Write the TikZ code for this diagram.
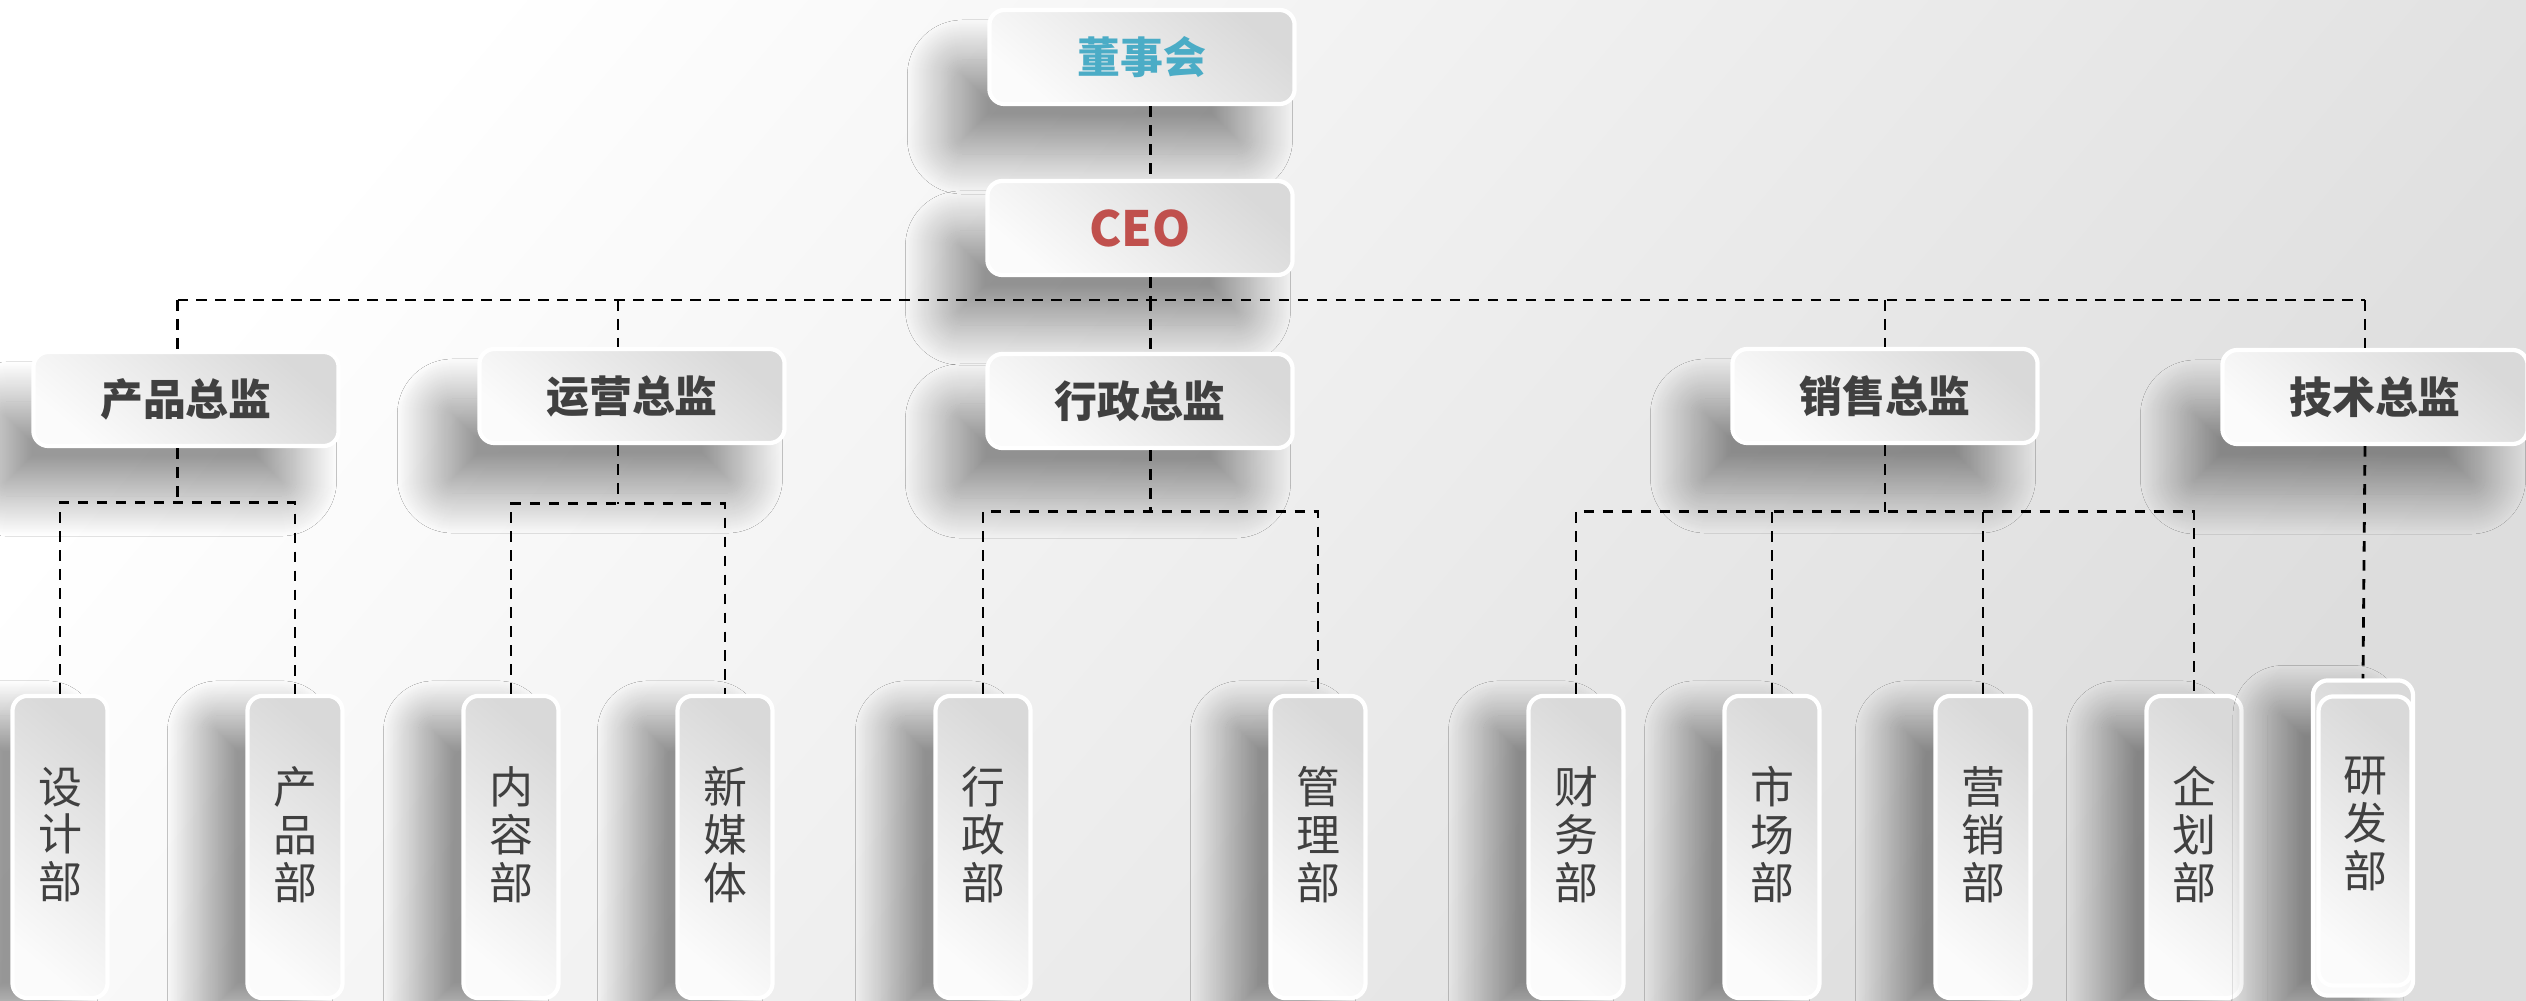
\documentclass[tikz,border=0pt]{standalone}
\usepackage{fontspec}
\newfontfamily\cjk{Noto Sans CJK SC}
\usetikzlibrary{shadows.blur, calc}

\definecolor{boardblue}{HTML}{4BACC6}
\definecolor{ceored}{HTML}{C0504D}
\definecolor{inkgray}{HTML}{404040}
\definecolor{cardtop}{HTML}{D9D9D9}
\definecolor{cardlow}{HTML}{FBFBFB}
\definecolor{bggray}{HTML}{DDDDDD}

\begin{document}
\begin{tikzpicture}[x=0.01cm, y=-0.01cm,
    card/.style={rectangle, rounded corners=0.15cm, draw=white, line width=1.2pt, top color=cardtop, bottom color=cardlow, shading angle=-40, text=inkgray, inner sep=0pt},
    drop/.style={blur shadow={shadow xshift=-0.42cm, shadow yshift=-0.5cm, shadow blur radius=0.4cm, shadow blur steps=40, shadow opacity=40}},
    sidedrop/.style={blur shadow={shadow xshift=-0.45cm, shadow yshift=-0.2cm, shadow blur radius=0.35cm, shadow blur steps=40, shadow opacity=40}},
    head/.style={card, drop, minimum width=3.05cm, minimum height=0.94cm, font=\cjk\bfseries\fontsize{12.2}{14}\selectfont},
    unit/.style={card, minimum width=0.95cm, minimum height=3.02cm, align=center, text depth=8pt, font=\cjk\fontsize{12.5}{13.6}\selectfont},
    link/.style={draw=black, line width=0.8pt, dash pattern=on 3pt off 2.4pt}]

    % Background.
    \useasboundingbox (0,0) rectangle (2526,1001);
    \shade[top color=white, bottom color=bggray, shading angle=50] (0,0) rectangle (2526,1001);

    % Board and CEO.
    \node[head, text=boardblue] (B) at (1142,57) {董事会};
    \node[head, text=ceored, font=\cjk\bfseries\fontsize{13.8}{15}\selectfont] (C) at (1140,228) {CEO};

    % Directors.
    \foreach \i/\x/\y/\txt in {1/186/399/产品总监, 2/632/396/运营总监, 3/1140/401/行政总监, 4/1885/396/销售总监, 5/2375/397/技术总监}
        \node[head] (D-\i) at (\x,\y) {\txt};

    % Departments.
    \foreach \i/\x/\txt in {1/60/{设\\计\\部}, 2/295/{产\\品\\部}, 3/511/{内\\容\\部}, 4/725/{新\\媒\\体}, 5/983/{行\\政\\部}, 6/1318/{管\\理\\部}, 7/1576/{财\\务\\部}, 8/1772/{市\\场\\部}, 9/1983/{营\\销\\部}, 10/2194/{企\\划\\部}}
        \node[unit, sidedrop] (U-\i) at (\x,847) {\txt};
    \node[card, sidedrop, minimum width=1.0cm, minimum height=3.15cm] (U-11b) at (2363,838) {};
    \node[unit, minimum width=0.93cm, minimum height=2.89cm, text depth=10.5pt] (U-11) at (2365,841) {研\\发\\部};

    % Junctions.
    \coordinate (bus) at (0,300);
    \coordinate (J-1) at ($(U-1.north)!.5!(U-2.north)+(0,-191)$);
    \coordinate (J-2) at ($(U-3.north)!.5!(U-4.north)+(0,-190)$);
    \coordinate (J-3) at ($(U-5.north)!.5!(U-6.north)+(0,-182)$);
    \coordinate (J-4) at ($(U-7.north)!.5!(U-10.north)+(0,-182)$);

    % Top connections.
    \draw[link] (J-3 |- B.south) -- (J-3 |- C.north);
    \draw[link] (J-3 |- C.south) -- (J-3 |- bus);
    \draw[link] (J-1 |- bus) -- (U-11.north |- bus);
    \foreach \i in {1,...,4}
        \draw[link] (J-\i |- bus) -- (J-\i |- D-\i.north);
    \draw[link] (U-11.north |- bus) -- (U-11.north |- D-5.north);

    % Director connections.
    \foreach \i in {1,...,4}
        \draw[link] (J-\i |- D-\i.south) -- (J-\i);
    \draw[link] (U-11.north |- D-5.south) -- (U-11b.north);

    % Department connections.
    \draw[link] (U-1.north) |- (J-1) -| (U-2.north);
    \draw[link] (U-3.north) |- (J-2) -| (U-4.north);
    \draw[link] (U-5.north) |- (J-3) -| (U-6.north);
    \draw[link] (U-7.north) |- (J-4) -| (U-10.north);
    \foreach \i in {8,9}
        \draw[link] (U-\i.north) -- (U-\i.north |- J-4);

\end{tikzpicture}
\end{document}
